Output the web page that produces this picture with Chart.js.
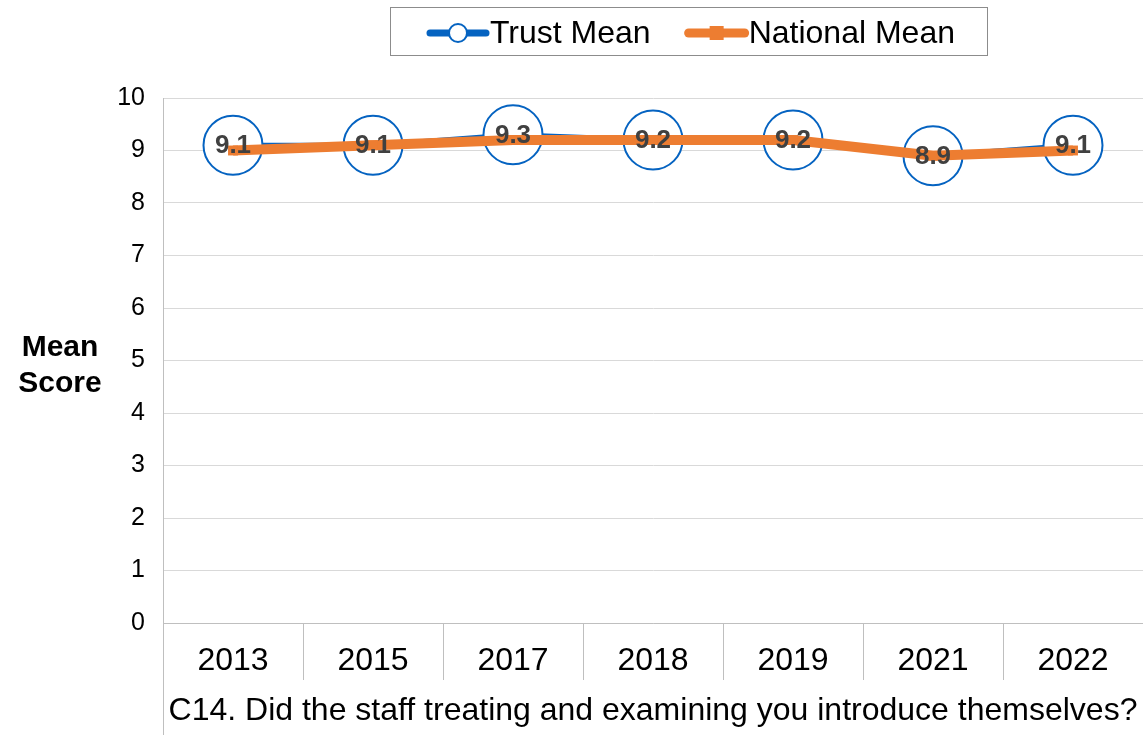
<!DOCTYPE html>
<html>
<head>
<meta charset="utf-8">
<script src="https://cdn.jsdelivr.net/npm/chart.js@4.4.1/dist/chart.umd.min.js"></script>
<style>
  html, body { margin: 0; padding: 0; background: #fff; }
  #wrap { width: 1143px; height: 735px; }
</style>
</head>
<body>
<div id="wrap"><canvas id="myChart" width="1143" height="735"></canvas></div>
<script>
// Survey years and mean scores
const years = ['2013', '2015', '2017', '2018', '2019', '2021', '2022'];
const trustMean = [9.1, 9.1, 9.3, 9.2, 9.2, 8.9, 9.1];
const nationalMean = [9.0, 9.1, 9.2, 9.2, 9.2, 8.9, 9.0];
const seriesNames = ['Trust Mean', 'National Mean'];
const yAxisTitle = ['Mean', 'Score'];
const questionText = 'C14. Did the staff treating and examining you introduce themselves?';

const FONT = "'Liberation Sans', Arial, Helvetica, sans-serif";
const BLUE = '#0563C1';
const ORANGE = '#ED7D31';
const AXIS_GREY = '#bfbfbf';

// Value labels on the trust points
const valueLabels = {
    id: 'valueLabels',
    afterDatasetsDraw(chart) {
        const ctx = chart.ctx;
        const meta = chart.getDatasetMeta(0);
        ctx.save();
        ctx.font = 'bold 26px ' + FONT;
        ctx.fillStyle = '#404040';
        ctx.textAlign = 'center';
        ctx.textBaseline = 'middle';
        meta.data.forEach((pt, i) => {
            ctx.fillText(trustMean[i].toFixed(1), pt.x, pt.y + 1);
        });
        ctx.restore();
    }
};

// Boxed legend, horizontal y-axis title and the left rule under the x axis
const decorations = {
    id: 'decorations',
    afterDraw(chart) {
        const ctx = chart.ctx;
        const area = chart.chartArea;
        ctx.save();

        // legend frame
        ctx.strokeStyle = '#8c8c8c';
        ctx.lineWidth = 1;
        ctx.strokeRect(390.5, 7.5, 597, 48);

        ctx.font = '32px ' + FONT;
        ctx.textBaseline = 'middle';
        ctx.textAlign = 'left';
        const cy = 33;
        let x = 430;
        chart.data.datasets.forEach((ds, i) => {
            ctx.lineCap = 'round';
            ctx.strokeStyle = ds.borderColor;
            ctx.lineWidth = i === 0 ? 7 : 9;
            ctx.beginPath();
            ctx.moveTo(x, cy);
            ctx.lineTo(x + 56, cy);
            ctx.stroke();
            if (i === 0) {
                ctx.fillStyle = '#fff';
                ctx.lineWidth = 2;
                ctx.beginPath();
                ctx.arc(x + 28, cy, 9, 0, Math.PI * 2);
                ctx.fill();
                ctx.stroke();
            } else {
                ctx.fillStyle = ORANGE;
                ctx.fillRect(x + 21, cy - 7, 14, 14);
            }
            ctx.fillStyle = '#000';
            ctx.fillText(ds.label, x + 60, cy + 1);
            x += 60 + ctx.measureText(ds.label).width + 38;
        });

        // y-axis title, written horizontally
        ctx.font = 'bold 30px ' + FONT;
        ctx.textAlign = 'center';
        ctx.fillStyle = '#000';
        ctx.fillText(yAxisTitle[0], 60, 348);
        ctx.fillText(yAxisTitle[1], 60, 384);

        // left rule running down beside the question text
        ctx.strokeStyle = AXIS_GREY;
        ctx.lineWidth = 1;
        ctx.beginPath();
        ctx.moveTo(Math.round(area.left) + 0.5, area.bottom);
        ctx.lineTo(Math.round(area.left) + 0.5, chart.height);
        ctx.stroke();
        ctx.restore();
    }
};

const chartConfig = {
    type: 'line',
    data: {
        labels: years,
        datasets: [{
            label: seriesNames[0],
            data: trustMean,
            borderColor: BLUE,
            backgroundColor: '#fff',
            borderWidth: 5,
            tension: 0,
            pointRadius: 29.5,
            pointHoverRadius: 29.5,
            pointBorderWidth: 2,
            pointBackgroundColor: '#fff',
            pointBorderColor: BLUE,
            order: 2
        }, {
            label: seriesNames[1],
            data: nationalMean,
            borderColor: ORANGE,
            backgroundColor: ORANGE,
            borderWidth: 10,
            tension: 0,
            pointStyle: 'rect',
            pointRadius: 7,
            pointHoverRadius: 7,
            pointBorderWidth: 0,
            pointBackgroundColor: ORANGE,
            order: 1
        }]
    },
    options: {
        responsive: false,
        animation: false,
        layout: {
            autoPadding: false,
            padding: { top: 98, left: 0, right: 0, bottom: 0 }
        },
        plugins: {
            legend: { display: false },
            tooltip: { enabled: false }
        },
        scales: {
            x: {
                offset: true,
                grid: {
                    offset: true,
                    drawOnChartArea: false,
                    drawTicks: true,
                    tickLength: 57,
                    color: AXIS_GREY
                },
                border: { color: AXIS_GREY },
                ticks: {
                    color: '#000',
                    font: { family: FONT, size: 32 },
                    padding: -38,
                    maxRotation: 0,
                    autoSkip: false
                },
                title: {
                    display: true,
                    text: questionText,
                    color: '#000',
                    font: { family: FONT, size: 32 },
                    padding: { top: 0, bottom: 5 }
                },
                afterFit(scale) { scale.height = 112; }
            },
            y: {
                min: 0,
                max: 10,
                ticks: {
                    stepSize: 1,
                    color: '#000',
                    font: { family: FONT, size: 25 },
                    padding: 18
                },
                grid: { color: '#d9d9d9', drawTicks: false },
                border: { color: AXIS_GREY },
                afterFit(scale) { scale.width = 163; }
            }
        }
    },
    plugins: [valueLabels, decorations]
};

const ctx = document.getElementById('myChart').getContext('2d');
const myChart = new Chart(ctx, chartConfig);
</script>
</body>
</html>
